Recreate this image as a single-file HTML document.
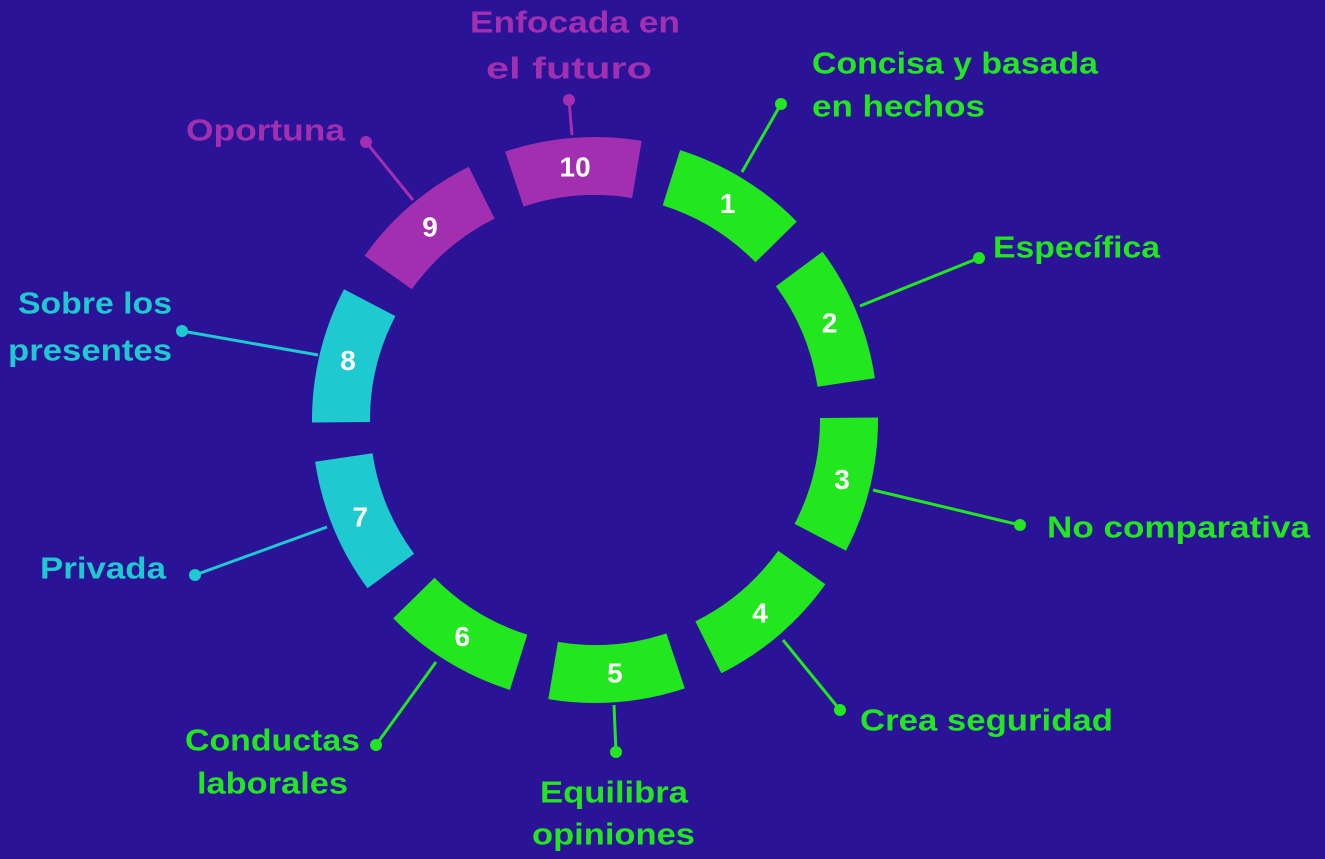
<!DOCTYPE html>
<html><head><meta charset="utf-8">
<style>
html,body{margin:0;padding:0;background:#2a1396;}
svg{display:block}
text{font-family:"Liberation Sans","DejaVu Sans",sans-serif;font-weight:bold;}
</style></head>
<body>
<svg id="s" width="1325" height="859" viewBox="0 0 1325 859" xmlns="http://www.w3.org/2000/svg">
<rect width="1325" height="859" fill="#2a1396"/>
<g id="segs"></g>
<g stroke-width="3">
<line x1="742" y1="172" x2="781" y2="104" stroke="#22e61e"/><circle cx="781" cy="104" r="6" fill="#22e61e"/>
<line x1="860" y1="306" x2="979" y2="258" stroke="#22e61e"/><circle cx="979" cy="258" r="6" fill="#22e61e"/>
<line x1="873" y1="490" x2="1020" y2="525" stroke="#22e61e"/><circle cx="1020" cy="525" r="6" fill="#22e61e"/>
<line x1="783" y1="640" x2="840" y2="710" stroke="#22e61e"/><circle cx="840" cy="710" r="6" fill="#22e61e"/>
<line x1="614" y1="705" x2="616" y2="752" stroke="#22e61e"/><circle cx="616" cy="752" r="6" fill="#22e61e"/>
<line x1="436" y1="662" x2="376" y2="745" stroke="#22e61e"/><circle cx="376" cy="745" r="6" fill="#22e61e"/>
<line x1="327" y1="527" x2="195" y2="575" stroke="#1fc9d0"/><circle cx="195" cy="575" r="6" fill="#1fc9d0"/>
<line x1="318" y1="355" x2="182" y2="331" stroke="#1fc9d0"/><circle cx="182" cy="331" r="6" fill="#1fc9d0"/>
<line x1="413" y1="200" x2="366" y2="142" stroke="#a22fb0"/><circle cx="366" cy="142" r="6" fill="#a22fb0"/>
<line x1="572" y1="135" x2="569" y2="100" stroke="#a22fb0"/><circle cx="569" cy="100" r="6" fill="#a22fb0"/>
</g>
<g font-size="31" dominant-baseline="central">
<text x="812" y="63" fill="#22e61e" textLength="286" lengthAdjust="spacingAndGlyphs">Concisa y basada</text>
<text x="812" y="106" fill="#22e61e" textLength="173" lengthAdjust="spacingAndGlyphs">en hechos</text>
<text x="993" y="247" fill="#22e61e" textLength="167" lengthAdjust="spacingAndGlyphs">Específica</text>
<text x="1047" y="527" fill="#22e61e" textLength="263" lengthAdjust="spacingAndGlyphs">No comparativa</text>
<text x="860" y="720" fill="#22e61e" textLength="253" lengthAdjust="spacingAndGlyphs">Crea seguridad</text>
<text x="540" y="792" fill="#22e61e" textLength="148" lengthAdjust="spacingAndGlyphs">Equilibra</text>
<text x="532" y="834" fill="#22e61e" textLength="163" lengthAdjust="spacingAndGlyphs">opiniones</text>
<text x="185" y="740" fill="#22e61e" textLength="175" lengthAdjust="spacingAndGlyphs">Conductas</text>
<text x="197" y="783" fill="#22e61e" textLength="151" lengthAdjust="spacingAndGlyphs">laborales</text>
<text x="40" y="568" fill="#1fc9d0" textLength="126" lengthAdjust="spacingAndGlyphs">Privada</text>
<text x="18" y="303" fill="#1fc9d0" textLength="154" lengthAdjust="spacingAndGlyphs">Sobre los</text>
<text x="8" y="350" fill="#1fc9d0" textLength="164" lengthAdjust="spacingAndGlyphs">presentes</text>
<text x="186" y="130" fill="#a22fb0" textLength="159" lengthAdjust="spacingAndGlyphs">Oportuna</text>
<text x="470" y="22" fill="#a22fb0" textLength="210" lengthAdjust="spacingAndGlyphs">Enfocada en</text>
<text x="486" y="68" fill="#a22fb0" textLength="166" lengthAdjust="spacingAndGlyphs">el futuro</text>
</g>
<g id="nums" font-size="28" fill="#fff" text-anchor="middle" dominant-baseline="central"></g>
</svg>
<script>
var cx=595,cy=420,R=283,r=225,half=14;
var segs=document.getElementById('segs'),nums=document.getElementById('nums');
var ns="http://www.w3.org/2000/svg";
function pt(rad,a){a=a*Math.PI/180;return (cx+rad*Math.cos(a)).toFixed(1)+","+(cy+rad*Math.sin(a)).toFixed(1);}
for(var k=1;k<=10;k++){
 var c=-94.5+36*k,a0=c-half,a1=c+half;
 var col=k<=6?"#22e61e":(k<=8?"#1fc9d0":"#a22fb0");
 var p=document.createElementNS(ns,"path");
 p.setAttribute("d","M"+pt(R,a0)+" A"+R+","+R+" 0 0 1 "+pt(R,a1)+" L"+pt(r,a1)+" A"+r+","+r+" 0 0 0 "+pt(r,a0)+" Z");
 p.setAttribute("fill",col);segs.appendChild(p);
 var t=document.createElementNS(ns,"text");
 var ar=c*Math.PI/180;
 t.setAttribute("x",(cx+254*Math.cos(ar)).toFixed(1));
 t.setAttribute("y",(cy+254*Math.sin(ar)).toFixed(1));
 t.textContent=k;nums.appendChild(t);
}
</script>
</body></html>
